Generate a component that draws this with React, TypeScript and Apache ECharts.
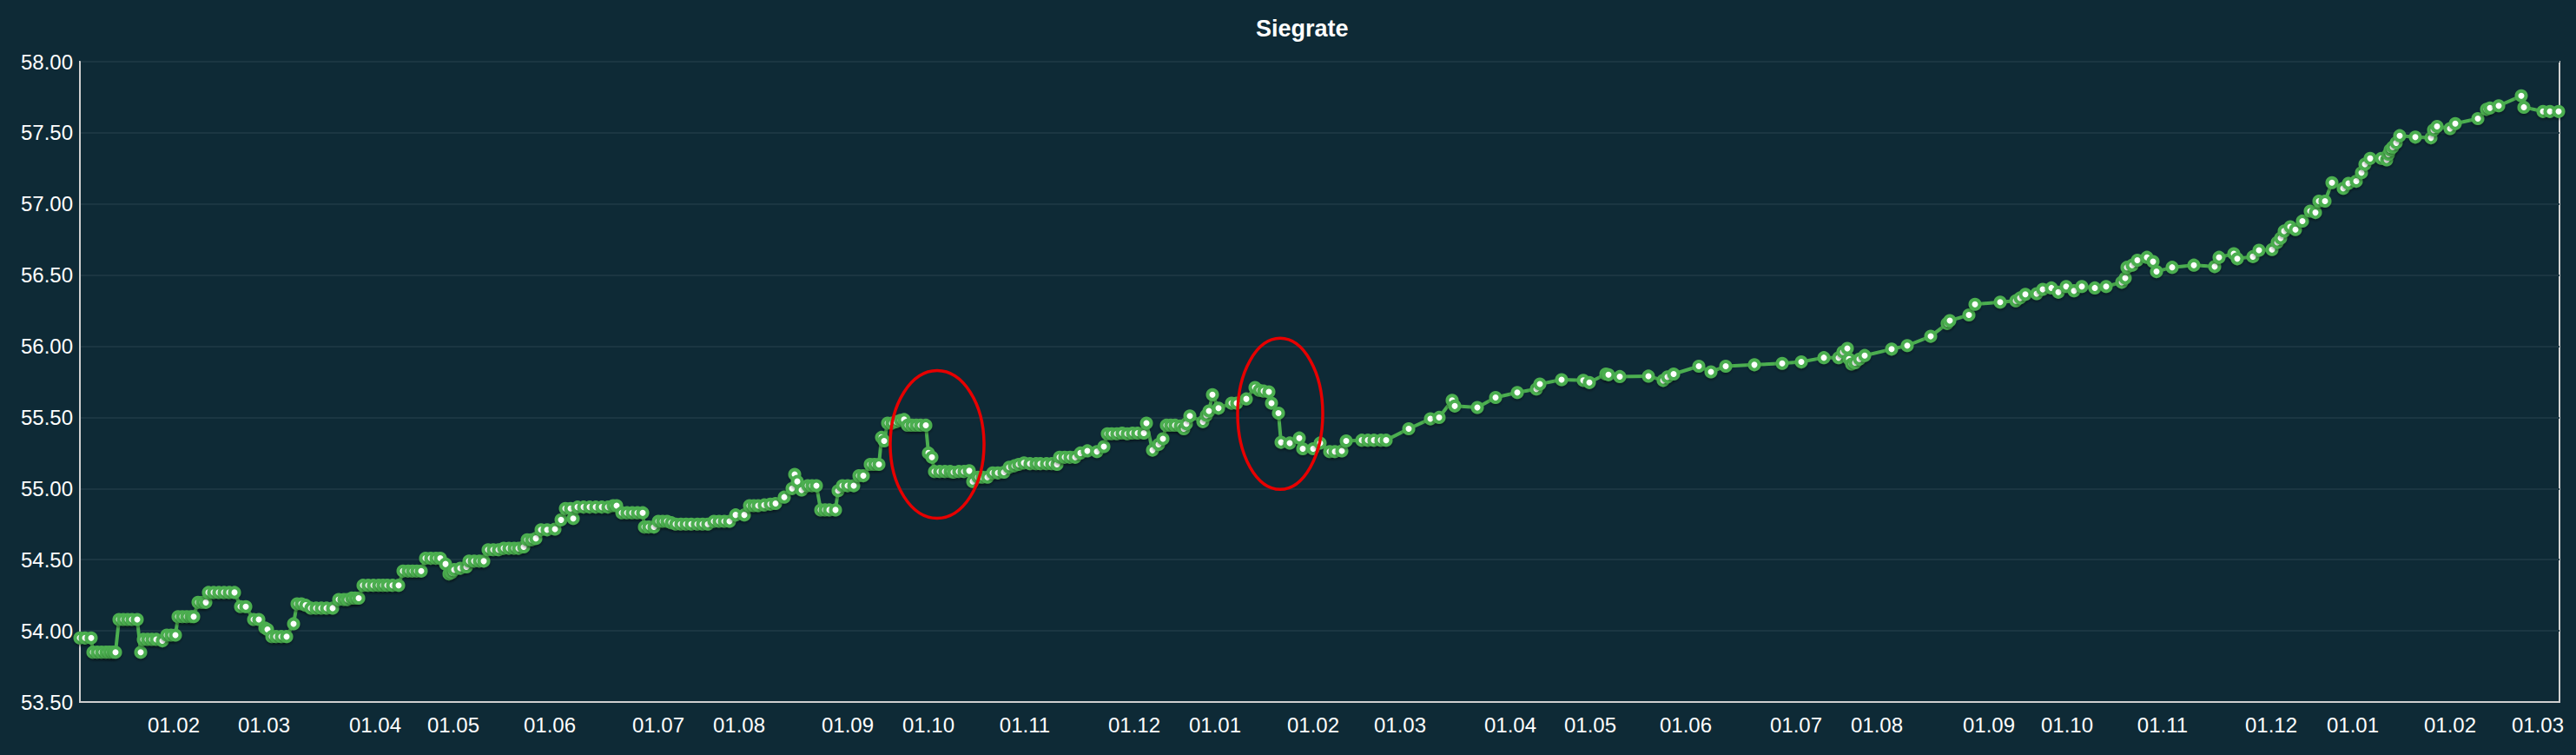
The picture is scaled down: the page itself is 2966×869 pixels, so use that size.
import { useEffect, useRef } from "react";
import * as echarts from "echarts";

const TITLE = "Siegrate";

// x = position in the game sequence (arbitrary units), y = win rate
const gamePos = [
  0, 6, 13, 15, 20, 25, 30, 34, 38, 41, 45, 50, 55, 60, 66, 70, 73, 78, 83, 88,
  95, 100, 105, 110, 113, 118, 123, 128, 131, 136, 141, 145, 148, 154, 160, 166,
  172, 178, 185, 191, 200, 206, 213, 216, 221, 226, 232, 238, 246, 250, 255, 260,
  266, 272, 278, 284, 291, 298, 304, 308, 313, 317, 321, 326, 332, 338, 344, 349,
  354, 360, 367, 372, 378, 383, 388, 393, 398, 404, 410, 415, 421, 425, 428, 431,
  438, 445, 448, 454, 460, 465, 470, 476, 482, 488, 494, 500, 505, 511,
  515, 520, 525, 531, 538, 547, 554, 559, 565, 568, 573, 580, 587, 594, 601, 608,
  614, 618, 624, 630, 636, 642, 648, 650, 655, 661, 666, 671, 676, 681, 686, 692,
  698, 704, 711, 717, 723, 730, 736, 742, 748, 755, 765, 771, 776, 781, 788, 795,
  801, 811, 820, 823, 826, 831, 838, 843, 848, 853, 858, 863, 870, 873, 878, 884,
  891, 897, 902,
  910, 915, 920, 923, 926, 930, 935, 940, 945, 949, 953, 958, 963, 968, 974, 977,
  981, 984, 990, 996, 1002, 1006, 1012, 1018, 1024, 1028, 1034, 1039, 1045, 1051,
  1057, 1064, 1070, 1076, 1081, 1087, 1094, 1101, 1106, 1113, 1119, 1125, 1128,
  1134, 1140, 1146, 1152, 1160, 1171, 1179, 1183, 1188, 1194, 1200, 1206, 1212,
  1218, 1225, 1228, 1235, 1242, 1247, 1251, 1256, 1261, 1267, 1271, 1274, 1278,
  1293, 1297, 1300, 1304, 1311, 1326, 1332, 1343, 1353, 1358, 1363, 1369, 1372,
  1380, 1383, 1393, 1404, 1408, 1420, 1428, 1439, 1445, 1453,
  1458, 1476, 1483, 1490, 1498, 1504, 1530, 1555, 1565, 1580, 1583, 1609, 1630,
  1655, 1677, 1681, 1706, 1731, 1738, 1757, 1760, 1773, 1806, 1823, 1828, 1835,
  1864, 1878, 1895, 1928, 1960, 1982, 2008, 2025, 2030, 2035, 2037, 2040, 2044,
  2049, 2055, 2086, 2104, 2131, 2150, 2153, 2175, 2182, 2211, 2229, 2234, 2240,
  2253, 2260, 2270, 2278, 2287, 2296, 2305, 2320, 2333,
  2351, 2355, 2357, 2363, 2369, 2380, 2387, 2391, 2409, 2434, 2458, 2463, 2480,
  2484, 2502, 2509, 2524, 2530, 2534, 2538, 2545, 2551, 2559, 2568, 2574, 2578,
  2585, 2593, 2606, 2612, 2621, 2627, 2631, 2637, 2650, 2656, 2658, 2660, 2663,
  2667, 2671, 2689, 2707, 2710, 2714, 2729, 2735, 2761, 2771, 2775, 2785, 2811,
  2814, 2836, 2844, 2854,
];

const winRate = [
  53.95, 53.95, 53.95, 53.85, 53.85, 53.85, 53.85, 53.85, 53.85, 53.85, 54.08,
  54.08, 54.08, 54.08, 54.08, 53.85, 53.94, 53.94, 53.94, 53.94, 53.93, 53.97,
  53.97, 53.97, 54.1, 54.1, 54.1, 54.1, 54.1, 54.2, 54.2, 54.2, 54.27, 54.27,
  54.27, 54.27, 54.27, 54.27, 54.17, 54.17, 54.08, 54.08, 54.02, 54.01, 53.96,
  53.96, 53.96, 53.96, 54.05, 54.19, 54.19, 54.18, 54.16, 54.16, 54.16, 54.16,
  54.16, 54.22, 54.22, 54.22, 54.23, 54.23, 54.23, 54.32, 54.32, 54.32, 54.32,
  54.32, 54.32, 54.32, 54.32, 54.42, 54.42, 54.42, 54.42, 54.42, 54.51, 54.51,
  54.51, 54.51, 54.47, 54.4, 54.41, 54.43, 54.44, 54.45, 54.49, 54.49, 54.49,
  54.49, 54.57, 54.57, 54.57, 54.58, 54.58, 54.58, 54.58, 54.59,
  54.64, 54.64, 54.65, 54.71, 54.71, 54.715, 54.78, 54.86, 54.86, 54.79, 54.87,
  54.87, 54.87, 54.87, 54.87, 54.87, 54.88, 54.88, 54.83, 54.83, 54.83, 54.83,
  54.83, 54.73, 54.73, 54.73, 54.77, 54.77, 54.77, 54.76, 54.75, 54.75, 54.75,
  54.75, 54.75, 54.75, 54.75, 54.77, 54.77, 54.77, 54.77, 54.815, 54.815, 54.88,
  54.88, 54.88, 54.885, 54.89, 54.895, 54.94, 55.0, 55.1, 55.05, 54.99, 55.02,
  55.02, 55.02, 54.85, 54.85, 54.85, 54.85, 54.985, 55.02, 55.02, 55.02, 55.09,
  55.09,
  55.17, 55.17, 55.17, 55.36, 55.335, 55.46, 55.46, 55.47, 55.48, 55.485,
  55.445, 55.445, 55.445, 55.445, 55.445, 55.25, 55.22, 55.12, 55.12, 55.12,
  55.12, 55.115, 55.12, 55.12, 55.125, 55.05, 55.08, 55.08, 55.08, 55.11, 55.11,
  55.115, 55.15, 55.16, 55.17, 55.18, 55.175, 55.175, 55.175, 55.175, 55.175,
  55.17, 55.22, 55.22, 55.22, 55.22, 55.25, 55.265, 55.26, 55.295, 55.385,
  55.385, 55.385, 55.39, 55.385, 55.39, 55.39, 55.39, 55.46, 55.27, 55.31, 55.35,
  55.445, 55.445, 55.445, 55.44, 55.42, 55.455, 55.51, 55.47, 55.515, 55.545,
  55.66, 55.565, 55.6, 55.6, 55.63, 55.71, 55.69, 55.685, 55.68, 55.6, 55.53,
  55.325, 55.32, 55.355, 55.28, 55.28, 55.32, 55.26, 55.26, 55.265,
  55.335, 55.34, 55.34, 55.34, 55.34, 55.34, 55.42, 55.49, 55.5, 55.62, 55.58,
  55.57, 55.64, 55.675, 55.7, 55.735, 55.765, 55.76, 55.745, 55.805, 55.8,
  55.787, 55.79, 55.76, 55.785, 55.805, 55.86, 55.82, 55.86, 55.87, 55.88, 55.89,
  55.92, 55.92, 55.96, 55.985, 55.91, 55.875, 55.885, 55.91, 55.935, 55.98,
  56.005, 56.07, 56.16, 56.18, 56.22, 56.295, 56.31, 56.32, 56.34, 56.365, 56.37,
  56.4, 56.41, 56.38, 56.42, 56.39, 56.42, 56.41, 56.42,
  56.45, 56.48, 56.555, 56.57, 56.605, 56.625, 56.595, 56.525, 56.555, 56.57,
  56.56, 56.625, 56.65, 56.615, 56.63, 56.675, 56.68, 56.73, 56.76, 56.81, 56.84,
  56.82, 56.88, 56.95, 56.94, 57.02, 57.02, 57.15, 57.11, 57.145, 57.16, 57.22,
  57.28, 57.32, 57.32, 57.31, 57.35, 57.38, 57.4, 57.43, 57.48, 57.47, 57.465,
  57.52, 57.545, 57.53, 57.565, 57.6, 57.665, 57.675, 57.69, 57.76, 57.68, 57.65,
  57.65, 57.65,
];

// month-start positions on the x axis and their labels
const monthTicks = [
  108, 212, 340, 430, 541, 666, 759, 884, 977, 1088, 1214, 1307, 1420, 1520,
  1647, 1739, 1849, 1976, 2069, 2198, 2288, 2398, 2523, 2617, 2729, 2830,
];
const monthLabels = [
  "01.02", "01.03", "01.04", "01.05", "01.06", "01.07", "01.08", "01.09",
  "01.10", "01.11", "01.12", "01.01", "01.02", "01.03", "01.04", "01.05",
  "01.06", "01.07", "01.08", "01.09", "01.10", "01.11", "01.12", "01.01",
  "01.02", "01.03",
];

const X_MAX = 2855;
const Y_MIN = 53.5;
const Y_MAX = 58;

// red hand-drawn highlight rings: [x, y] centre in data units
const highlights = [
  [987, 55.31],
  [1382, 55.525],
];
const highlightRadii = [
  [54, 85],
  [49, 87],
];

const BG = "#0e2a36";
const GREEN = "#4caf50";
const FONT = "'Liberation Sans', Arial, sans-serif";

export default function App() {
  const ref = useRef<HTMLDivElement>(null);

  useEffect(() => {
    if (!ref.current) return;
    const chart = echarts.init(ref.current, undefined, { renderer: "svg" });
    const points = gamePos.map((x, i) => [x, winRate[i]]);

    chart.setOption({
      animation: false,
      backgroundColor: BG,
      title: {
        text: TITLE,
        left: 1446,
        top: 19,
        padding: 0,
        textStyle: {
          color: "#ffffff",
          fontSize: 27,
          fontWeight: "bold",
          fontFamily: FONT,
        },
      },
      grid: {
        left: 92,
        right: 19,
        top: 71,
        bottom: 61,
        show: true,
        borderColor: "#cfcfcf",
        borderWidth: 2,
        backgroundColor: "transparent",
      },
      xAxis: {
        type: "value",
        min: 0,
        max: X_MAX,
        axisLine: { show: true, lineStyle: { color: "#cfcfcf", width: 2 } },
        axisTick: { show: false },
        splitLine: { show: false },
        axisLabel: {
          customValues: monthTicks,
          formatter: (v: number) => monthLabels[monthTicks.indexOf(v)] ?? "",
          color: "#ffffff",
          fontSize: 24,
          fontFamily: FONT,
          margin: 14,
          hideOverlap: false,
        },
      },
      yAxis: {
        type: "value",
        min: Y_MIN,
        max: Y_MAX,
        interval: 0.5,
        axisLine: { show: true, lineStyle: { color: "#cfcfcf", width: 2 } },
        axisTick: { show: false },
        splitLine: { lineStyle: { color: "#1b3642", width: 2 } },
        axisLabel: {
          formatter: (v: number) => v.toFixed(2),
          color: "#ffffff",
          fontSize: 24,
          fontFamily: FONT,
          margin: 8,
        },
      },
      series: [
        {
          type: "line",
          data: points,
          symbol: "circle",
          symbolSize: 11,
          showAllSymbol: true,
          lineStyle: { color: GREEN, width: 4 },
          itemStyle: {
            color: "#ffffff",
            borderColor: GREEN,
            borderWidth: 4,
            shadowColor: "rgba(0,0,0,0.35)",
            shadowBlur: 3,
            shadowOffsetY: 2,
          },
          z: 3,
        },
      ],
    });

    const rings = highlights.map((c, i) => {
      const [cx, cy] = chart.convertToPixel({ gridIndex: 0 }, c) as number[];
      return {
        type: "ellipse",
        shape: { cx, cy, rx: highlightRadii[i][0], ry: highlightRadii[i][1] },
        style: { fill: "none", stroke: "#e60000", lineWidth: 3.5 },
        z: 10,
      };
    });
    chart.setOption({ graphic: rings });

    return () => chart.dispose();
  }, []);

  return (
    <div
      ref={ref}
      style={{ position: "fixed", left: 0, top: 0, width: "100vw", height: "100vh" }}
    />
  );
}
